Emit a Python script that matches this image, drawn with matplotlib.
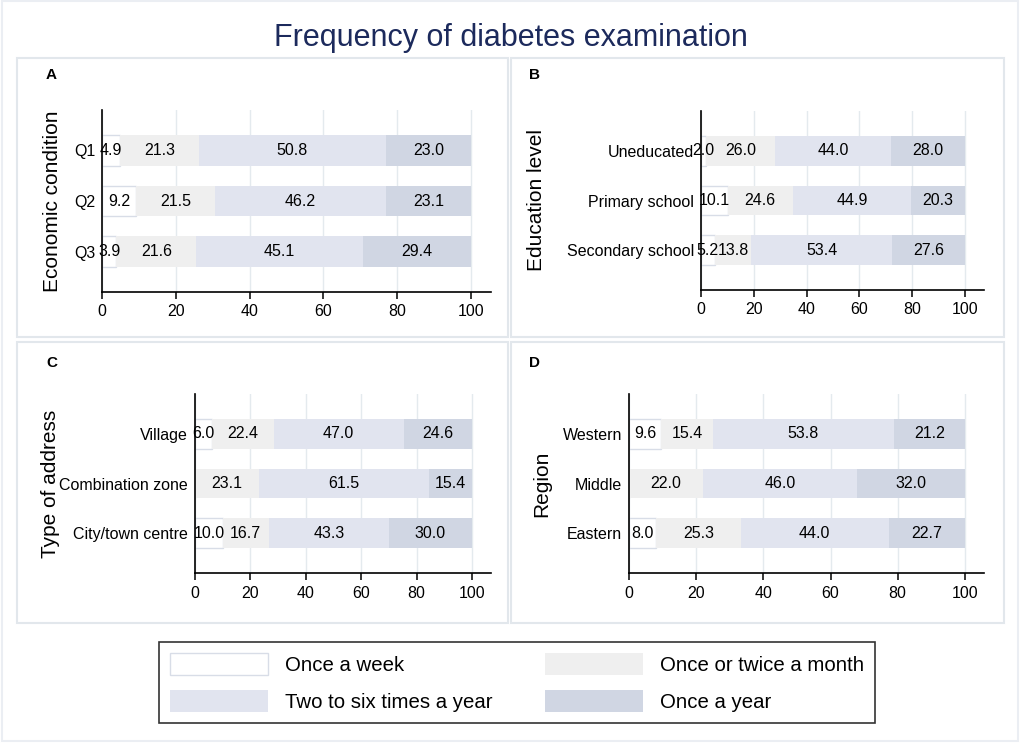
import matplotlib.pyplot as plt
from matplotlib.patches import Rectangle

plt.rcParams['font.family'] = ['Liberation Sans', 'DejaVu Sans']

W, H = 1021, 743

series = ['Once a week', 'Once or twice a month', 'Two to six times a year', 'Once a year']
colors = ['#ffffff', '#efefef', '#e1e4ef', '#d0d6e3']
edges = ['#d8dde7', 'none', 'none', 'none']

# A - economic condition
econ_cats = ['Q1', 'Q2', 'Q3']
econ_week = [4.9, 9.2, 3.9]
econ_month = [21.3, 21.5, 21.6]
econ_twosix = [50.8, 46.2, 45.1]
econ_year = [23.0, 23.1, 29.4]

# B - education level
edu_cats = ['Uneducated', 'Primary school', 'Secondary school']
edu_week = [2.0, 10.1, 5.2]
edu_month = [26.0, 24.6, 13.8]
edu_twosix = [44.0, 44.9, 53.4]
edu_year = [28.0, 20.3, 27.6]

# C - type of address
addr_cats = ['Village', 'Combination zone', 'City/town centre']
addr_week = [6.0, 0.0, 10.0]
addr_month = [22.4, 23.1, 16.7]
addr_twosix = [47.0, 61.5, 43.3]
addr_year = [24.6, 15.4, 30.0]

# D - region
reg_cats = ['Western', 'Middle', 'Eastern']
reg_week = [9.6, 0.0, 8.0]
reg_month = [15.4, 22.0, 25.3]
reg_twosix = [53.8, 46.0, 44.0]
reg_year = [21.2, 32.0, 22.7]

xticks = [0, 20, 40, 60, 80, 100]


def px_rect(x0, y0, x1, y1):
    return [x0 / W, 1 - y1 / H, (x1 - x0) / W, (y1 - y0) / H]


def frame(x0, y0, x1, y1, color, lw):
    fig.add_artist(Rectangle((x0 / W, 1 - y1 / H), (x1 - x0) / W, (y1 - y0) / H,
                             transform=fig.transFigure, fill=False,
                             edgecolor=color, linewidth=lw))


def draw_panel(ax, cats, values, xmax):
    pos = list(range(len(cats)))[::-1]
    left = [0.0] * len(cats)
    handles = []
    for name, vals, c, e in zip(series, values, colors, edges):
        bars = ax.barh(pos, vals, left=left, height=0.6, color=c, edgecolor=e,
                       linewidth=1.0, label=name, zorder=2)
        handles.append(bars)
        labels = [f'{v:.1f}' if v > 0 else '' for v in vals]
        ax.bar_label(bars, labels=labels, label_type='center', fontsize=11.5)
        left = [l + v for l, v in zip(left, vals)]
    ax.set_yticks(pos)
    ax.set_yticklabels(cats)
    ax.set_xlim(0, xmax)
    ax.set_ylim(-0.8, 2.8)
    ax.set_xticks(xticks)
    ax.grid(axis='x', color='#e4eaee', linewidth=1.0, zorder=0)
    ax.set_axisbelow(True)
    for s in ['top', 'right']:
        ax.spines[s].set_visible(False)
    for s in ['left', 'bottom']:
        ax.spines[s].set_linewidth(1.2)
    ax.tick_params(axis='y', length=0, pad=5, labelsize=11.5)
    ax.tick_params(axis='x', length=5, width=1.1, pad=4, labelsize=11.5)
    return handles


fig = plt.figure(figsize=(W / 100, H / 100), dpi=100)

# outer and panel frames
frame(2, 1, 1018, 741, '#ebeef3', 1.5)
for box in [(17, 58, 508, 337), (511, 58, 1004, 337),
            (17, 342, 508, 623), (511, 342, 1004, 623)]:
    frame(*box, '#e2e7ec', 1.5)

axA = fig.add_axes(px_rect(102, 110, 491, 292))
axB = fig.add_axes(px_rect(701, 111, 984, 290))
axC = fig.add_axes(px_rect(195, 394, 491, 573))
axD = fig.add_axes(px_rect(629, 394, 984, 573))

handles = draw_panel(axA, econ_cats, [econ_week, econ_month, econ_twosix, econ_year], 105.4)
draw_panel(axB, edu_cats, [edu_week, edu_month, edu_twosix, edu_year], 107.2)
draw_panel(axC, addr_cats, [addr_week, addr_month, addr_twosix, addr_year], 106.9)
draw_panel(axD, reg_cats, [reg_week, reg_month, reg_twosix, reg_year], 105.7)

# y-axis titles and panel letters
for x, y, txt in [(52, 201, 'Economic condition'), (536, 200, 'Education level'),
                  (50, 484, 'Type of address'), (542, 484, 'Region')]:
    fig.text(x / W, 1 - y / H, txt, rotation=90, ha='center', va='center', fontsize=15)
for x, y, txt in [(51, 75, 'A'), (534, 75, 'B'), (52, 363, 'C'), (534, 363, 'D')]:
    fig.text(x / W, 1 - y / H, txt, ha='center', va='center', fontsize=11, fontweight='bold')

fig.text(0.5, 1 - 38 / H, 'Frequency of diabetes examination', ha='center', va='center',
         fontsize=22, color='#1c2a5c')

leg = fig.legend(handles=[handles[0], handles[2], handles[1], handles[3]],
                 labels=[series[0], series[2], series[1], series[3]],
                 ncol=2, loc='center', bbox_to_anchor=(517 / W, 1 - 682.5 / H),
                 fontsize=14.7, frameon=True, fancybox=False, edgecolor='black',
                 handlelength=4.8, handleheight=1.25, handletextpad=0.8,
                 labelspacing=0.75, columnspacing=2.6, borderpad=0.55)
leg.get_frame().set_linewidth(1.2)

fig.savefig('out.png', dpi=100)
